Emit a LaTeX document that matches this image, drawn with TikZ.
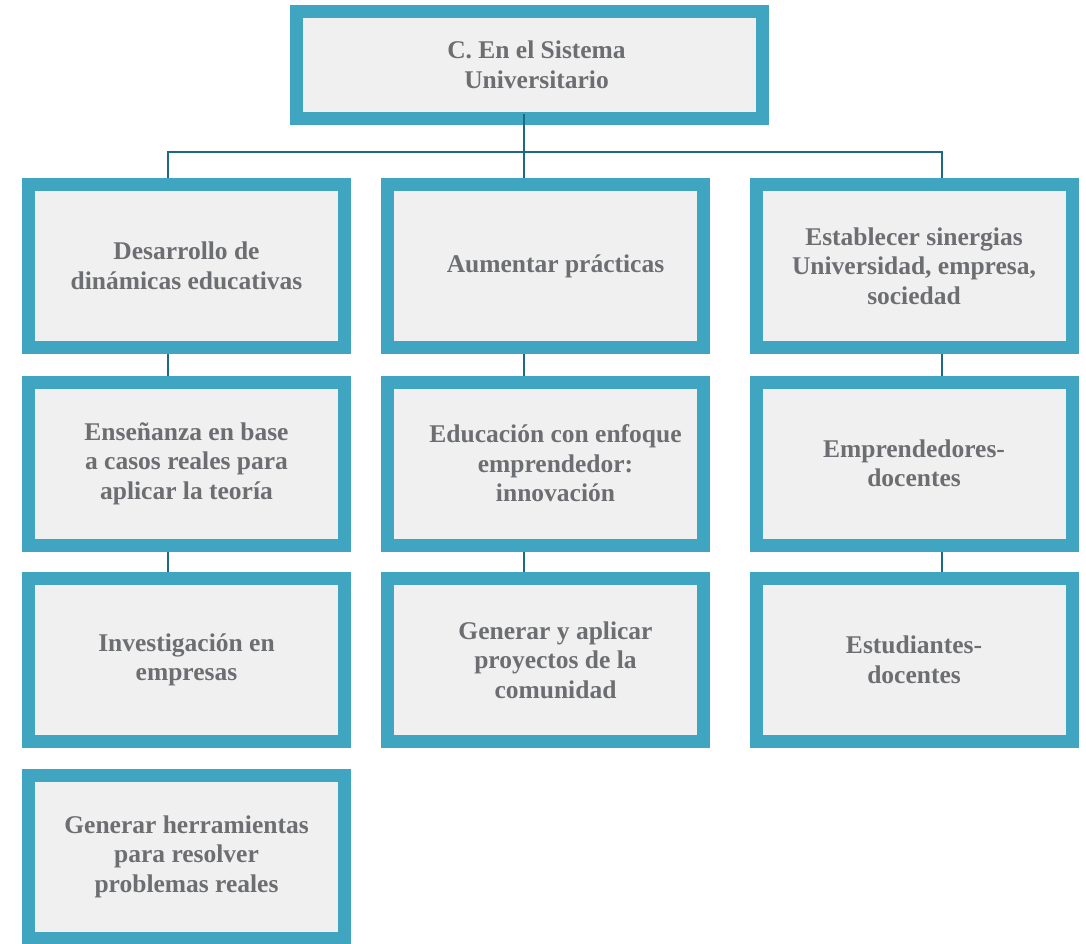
\documentclass[tikz,border=0pt]{standalone}
\usepackage{fontspec}
\setmainfont{Liberation Serif}
\usepackage{xcolor}
\usetikzlibrary{calc}
\definecolor{boxline}{HTML}{3FA5C0}
\definecolor{boxfill}{HTML}{F0F0F0}
\definecolor{linkcol}{HTML}{1D6B82}
\definecolor{txtgray}{HTML}{6D6E71}

\begin{document}
\begin{tikzpicture}[x=1pt,y=-1pt,
    box/.style={draw=boxline, line width=13pt, fill=boxfill,
      minimum width=316pt, minimum height=163pt, inner sep=0pt,
      align=center, text=txtgray,
      font=\fontsize{25.5}{29.5}\selectfont\bfseries},
    link/.style={draw=linkcol, line width=2.5pt}]
    \useasboundingbox (0,0) rectangle (1086,944);

    % Top
    \node[box, minimum width=466pt, minimum height=107pt] (top) at (529.5,65)
      {\hspace{14pt}C. En el Sistema\\\hspace{14pt}Universitario};

    % Left column
    \node[box] (a1) at (186.5,266) {Desarrollo de\\din\'amicas educativas};
    \node[box] (a2) at (186.5,463.5) {Ense\~nanza en base\\a casos reales para\\aplicar la teor\'ia};
    \node[box] (a3) at (186.5,660) {Investigaci\'on en\\empresas};
    \node[box] (a4) at (186.5,856.5) {Generar herramientas\\para resolver\\problemas reales};

    % Middle column
    \node[box] (b1) at (545.5,266) {\hspace{20pt}Aumentar pr\'acticas};
    \node[box] (b2) at (545.5,463.5) {\hspace{20pt}Educaci\'on con enfoque\\\hspace{20pt}emprendedor:\\\hspace{20pt}innovaci\'on};
    \node[box] (b3) at (545.5,660) {\hspace{20pt}Generar y aplicar\\\hspace{20pt}proyectos de la\\\hspace{20pt}comunidad};

    % Right column
    \node[box] (c1) at (914,266) {Establecer sinergias\\Universidad, empresa,\\sociedad};
    \node[box] (c2) at (914,463.5) {Emprendedores-\\docentes};
    \node[box] (c3) at (914,660) {Estudiantes-\\docentes};

    % Connectors
    \coordinate (hub) at ($(top.south)+(-5.5,27)$);
    \draw[link] ($(top.south)+(-5.5,-11)$) -- ($(b1.north)+(-21.5,0)$);
    \draw[link] ($(a1.north)+(-18.5,0)$) |- (hub) -| ($(c1.north)+(28,0)$);
    \foreach \u/\v in {a1/a2, a2/a3} {
      \draw[link] ($(\u.south)+(-18.5,0)$) -- ($(\v.north)+(-18.5,0)$);
    }
    \draw[link] ($(b1.south)+(-21.5,0)$) -- ($(b2.north)+(-21.5,0)$);
    \draw[link] ($(b2.south)+(-21.5,0)$) -- ($(b3.north)+(-21.5,0)$);
    \foreach \u/\v in {c1/c2, c2/c3} {
      \draw[link] ($(\u.south)+(28,0)$) -- ($(\v.north)+(28,0)$);
    }

\end{tikzpicture}
\end{document}
